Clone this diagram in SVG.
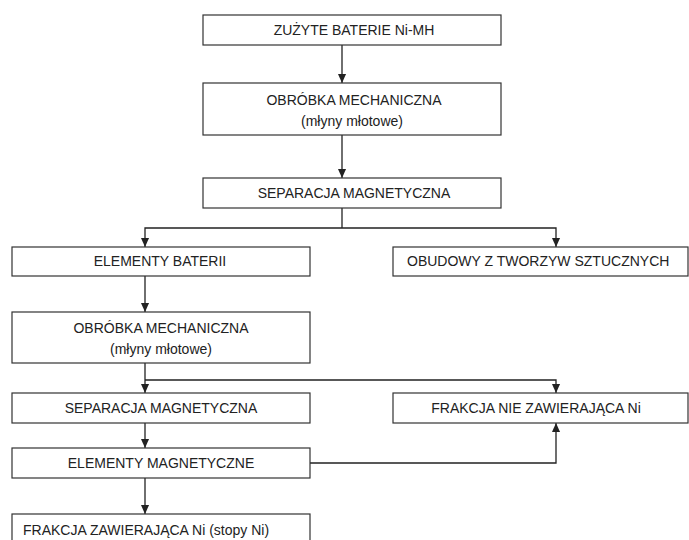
<svg xmlns="http://www.w3.org/2000/svg" width="689" height="540" viewBox="0 0 689 540">
<defs>
<style>
.box{fill:#fff;stroke:#333;stroke-width:1.2}
.t{font-family:"Liberation Sans Narrow","Liberation Sans",Arial,sans-serif;font-size:14px;fill:#222;text-anchor:middle}
.l{text-anchor:start}
.c{fill:none;stroke:#222;stroke-width:1.3}
</style>
<marker id="ah" viewBox="0 0 10 10" refX="10" refY="5" markerWidth="10" markerHeight="9" markerUnits="userSpaceOnUse" orient="auto">
<path d="M0,0.5 L10,5 L0,9.5 z" fill="#222"/>
</marker>
</defs>
<rect width="689" height="540" fill="#fff"/>
<g id="connectors">
<path class="c" d="M342,45 V83" marker-end="url(#ah)"/>
<path class="c" d="M342,135 V178" marker-end="url(#ah)"/>
<path class="c" d="M342,208 V228"/>
<path class="c" d="M342,228 H145 V247" marker-end="url(#ah)"/>
<path class="c" d="M342,228 H556 V247" marker-end="url(#ah)"/>
<path class="c" d="M145,276 V312" marker-end="url(#ah)"/>
<path class="c" d="M145,363 V393" marker-end="url(#ah)"/>
<path class="c" d="M145,380 H556 V393" marker-end="url(#ah)"/>
<path class="c" d="M145,423 V448" marker-end="url(#ah)"/>
<path class="c" d="M310,463 H556 V423" marker-end="url(#ah)"/>
<path class="c" d="M145,478 V514" marker-end="url(#ah)"/>
</g>
<g id="n1"><rect class="box" x="203" y="15" width="298" height="30"/><text class="t" x="354" y="35">ZUŻYTE BATERIE Ni-MH</text></g>
<g id="n2"><rect class="box" x="203" y="83" width="298" height="52"/><text class="t" x="354" y="105">OBRÓBKA MECHANICZNA</text><text class="t" x="352" y="126">(młyny młotowe)</text></g>
<g id="n3"><rect class="box" x="203" y="178" width="298" height="30"/><text class="t" x="354" y="198">SEPARACJA MAGNETYCZNA</text></g>
<g id="n4"><rect class="box" x="12" y="247" width="298" height="29"/><text class="t" x="160" y="266">ELEMENTY BATERII</text></g>
<g id="n5"><rect class="box" x="393" y="247" width="295" height="29"/><text class="t l" x="407" y="266">OBUDOWY Z TWORZYW SZTUCZNYCH</text></g>
<g id="n6"><rect class="box" x="12" y="312" width="298" height="51"/><text class="t" x="161" y="333">OBRÓBKA MECHANICZNA</text><text class="t" x="161" y="354">(młyny młotowe)</text></g>
<g id="n7"><rect class="box" x="12" y="393" width="298" height="30"/><text class="t" x="161" y="413">SEPARACJA MAGNETYCZNA</text></g>
<g id="n8"><rect class="box" x="393" y="393" width="295" height="30"/><text class="t" x="536" y="413">FRAKCJA NIE ZAWIERAJĄCA Ni</text></g>
<g id="n9"><rect class="box" x="12" y="448" width="298" height="30"/><text class="t" x="161" y="468">ELEMENTY MAGNETYCZNE</text></g>
<g id="n10"><rect class="box" x="12" y="514" width="298" height="40"/><text class="t l" x="23" y="535">FRAKCJA ZAWIERAJĄCA Ni (stopy Ni)</text></g>
</svg>
